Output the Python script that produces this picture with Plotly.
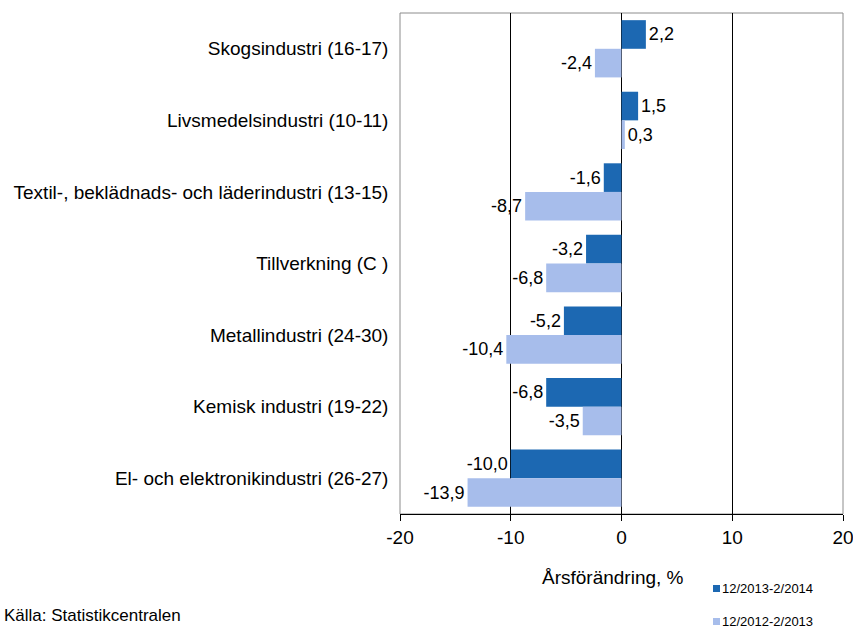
import plotly.graph_objects as go

categories = [
    "Skogsindustri (16-17)",
    "Livsmedelsindustri (10-11)",
    "Textil-, beklädnads- och läderindustri (13-15)",
    "Tillverkning (C )",
    "Metallindustri (24-30)",
    "Kemisk industri (19-22)",
    "El- och elektronikindustri (26-27)",
]
series_2014 = [2.2, 1.5, -1.6, -3.2, -5.2, -6.8, -10.0]
series_2013 = [-2.4, 0.3, -8.7, -6.8, -10.4, -3.5, -13.9]
name_2014 = "12/2013-2/2014"
name_2013 = "12/2012-2/2013"
x_ticks = [-20, -10, 0, 10, 20]

COL_2014 = "#1C68B2"
COL_2013 = "#A7BDEB"

def fmt(v):
    return f"{v:.1f}".replace(".", ",")

FONT = "Liberation Sans, Arial, sans-serif"

fig = go.Figure()
fig.add_trace(go.Bar(
    y=categories, x=series_2014, orientation="h", name=name_2014,
    marker=dict(color=COL_2014, line=dict(width=0)),
    text=[fmt(v) for v in series_2014], textposition="outside",
    textfont=dict(size=18, color="#000000", family=FONT),
    cliponaxis=False, showlegend=False,
))
fig.add_trace(go.Bar(
    y=categories, x=series_2013, orientation="h", name=name_2013,
    marker=dict(color=COL_2013, line=dict(width=0)),
    text=[fmt(v) for v in series_2013], textposition="outside",
    textfont=dict(size=18, color="#000000", family=FONT),
    cliponaxis=False, showlegend=False,
))

W, H = 853, 629
ML, MR, MT, MB = 400, 10, 13, 115
pw, ph = W - ML - MR, H - MT - MB

def px_x(x):
    return (x - ML) / pw

def px_y(y):
    return (H - MB - y) / ph

legend_items = [(name_2014, COL_2014, 588), (name_2013, COL_2013, 621)]
shapes = [dict(
    type="rect", xref="paper", yref="paper", x0=0, x1=1, y0=0, y1=1,
    line=dict(color="#8C8C8C", width=1), layer="below",
)]
annotations = [
    dict(text="Årsförändring, %", xref="paper", yref="paper",
         x=px_x(613), y=px_y(577), xanchor="center", yanchor="middle",
         showarrow=False, font=dict(size=19)),
    dict(text="Källa: Statistikcentralen", xref="paper", yref="paper",
         x=px_x(2), y=px_y(615), xanchor="left", yanchor="middle",
         showarrow=False, font=dict(size=17)),
]
for name, col, yc in legend_items:
    shapes.append(dict(
        type="rect", xref="paper", yref="paper",
        x0=px_x(713), x1=px_x(720), y0=px_y(yc + 4), y1=px_y(yc - 3),
        fillcolor=col, line=dict(width=0),
    ))
    annotations.append(dict(
        text=name, xref="paper", yref="paper", x=px_x(720), y=px_y(yc),
        xanchor="left", yanchor="middle", showarrow=False,
        font=dict(size=13),
    ))

fig.update_layout(
    width=W, height=H,
    margin=dict(l=ML, r=MR, t=MT, b=MB, autoexpand=False),
    paper_bgcolor="white", plot_bgcolor="white",
    barmode="group", bargap=0.2, bargroupgap=0,
    font=dict(family=FONT, size=19, color="#000000"),
    xaxis=dict(
        range=[-20, 20], tickvals=x_ticks,
        ticktext=[str(t) for t in x_ticks],
        showgrid=True, gridcolor="#000000", gridwidth=1,
        zeroline=True, zerolinecolor="#000000", zerolinewidth=1,
        showline=True, linecolor="#000000", linewidth=1,
        ticks="outside", ticklen=6, tickcolor="#000000",
        tickfont=dict(size=19), ticklabeloverflow="allow",
    ),
    yaxis=dict(
        autorange="reversed", showgrid=False, zeroline=False,
        showline=False, ticks="", ticksuffix="  ",
        tickfont=dict(size=19),
    ),
    showlegend=False,
    shapes=shapes,
    annotations=annotations,
)

fig.write_html(
    "out.html",
    config={"displayModeBar": False},
    post_script="document.body.style.margin='0';document.body.style.overflow='hidden';",
)
